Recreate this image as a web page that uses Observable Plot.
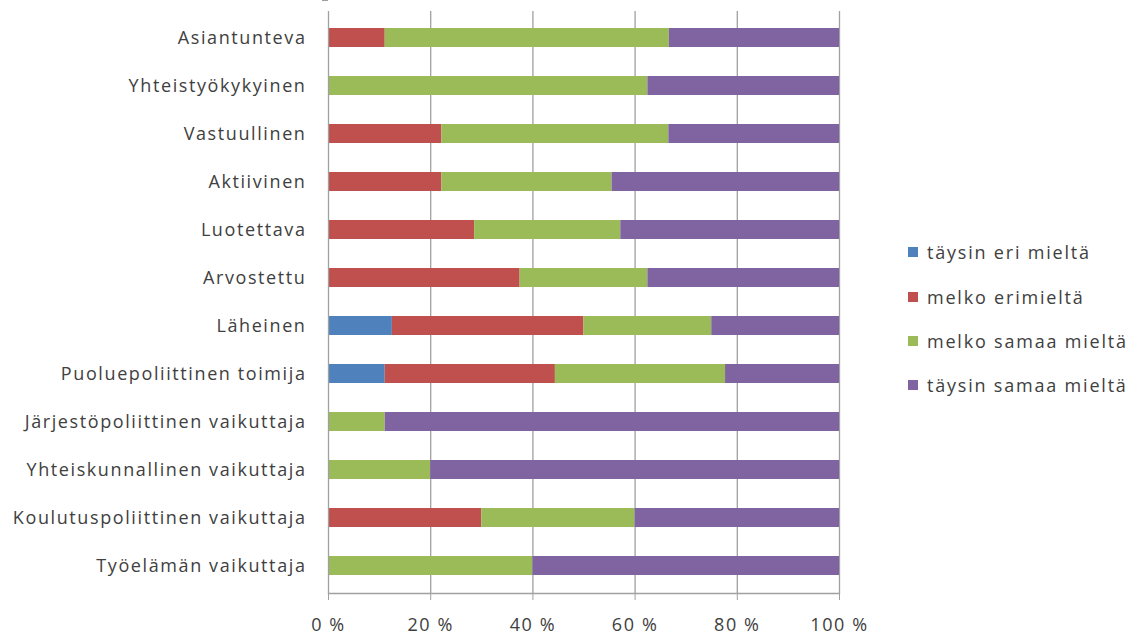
<!DOCTYPE html>
<html>
<head>
<meta charset="utf-8">
<script src="https://cdn.jsdelivr.net/npm/d3@7"></script>
<script src="https://cdn.jsdelivr.net/npm/@observablehq/plot@0.6"></script>
<style>
  html, body { margin: 0; padding: 0; background: #fff; }
  #chart { position: relative; width: 1138px; height: 636px; font-family: "Open Sans", sans-serif; color: #404040; }
  #legend { position: absolute; left: 908px; top: 230px; font-size: 18px; letter-spacing: 1.8px; }
  .item { display: flex; align-items: center; height: 44.4px; white-space: nowrap; }
  .sw { width: 10px; height: 10px; margin-right: 9px; }
  .c g[aria-label="y-axis tick label"] text { letter-spacing: 1.6px; }
  .c g[aria-label="x-axis tick label"] text { letter-spacing: 1.6px; }
</style>
</head>
<body>
<div id="chart"></div>
<script>
const categories = [
  "Asiantunteva",
  "Yhteistyökykyinen",
  "Vastuullinen",
  "Aktiivinen",
  "Luotettava",
  "Arvostettu",
  "Läheinen",
  "Puoluepoliittinen toimija",
  "Järjestöpoliittinen vaikuttaja",
  "Yhteiskunnallinen vaikuttaja",
  "Koulutuspoliittinen vaikuttaja",
  "Työelämän vaikuttaja"
];
const series = ["täysin eri mieltä", "melko erimieltä", "melko samaa mieltä", "täysin samaa mieltä"];
const colors = ["#4F81BD", "#C0504D", "#9BBB59", "#8064A2"];
const taysinEri   = [0, 0, 0, 0, 0, 0, 12.5, 11.1, 0, 0, 0, 0];
const melkoEri    = [11.1, 0, 22.2, 22.2, 28.6, 37.5, 37.5, 33.3, 0, 0, 30, 0];
const melkoSamaa  = [55.6, 62.5, 44.4, 33.3, 28.6, 25, 25, 33.3, 11.1, 20, 30, 40];
const taysinSamaa = [33.3, 37.5, 33.4, 44.5, 42.8, 37.5, 25, 22.3, 88.9, 80, 40, 60];
const xTicks = [0, 20, 40, 60, 80, 100];

const seriesValues = [taysinEri, melkoEri, melkoSamaa, taysinSamaa];
const rows = [];
categories.forEach((c, i) => {
  series.forEach((s, j) => rows.push({cat: c, series: s, value: seriesValues[j][i]}));
});

const axisColor = "#A0A0A0";

const bandTicks = (index, scales) => {
  const y = scales.y, x = scales.x;
  const step = y(categories[1]) - y(categories[0]);
  const bw = y.bandwidth != null ? y.bandwidth : step * 0.4;
  const off = (step - bw) / 2;
  const g = d3.create("svg:g").attr("stroke", axisColor).attr("stroke-width", 1.3);
  const x0 = x(0);
  const ys = categories.map(c => y(c) - off);
  ys.push(y(categories[categories.length - 1]) + bw + off);
  ys.forEach(v => g.append("line").attr("x1", x0 - 6).attr("x2", x0).attr("y1", v).attr("y2", v));
  return g.node();
};

const chart = Plot.plot({
  className: "c",
  width: 1138,
  height: 636,
  marginLeft: 328,
  marginRight: 299,
  marginTop: 11,
  marginBottom: 43,
  style: {fontFamily: "Open Sans, sans-serif", fontSize: "16px", color: "#404040", background: "#fff"},
  x: {domain: [0, 100]},
  y: {domain: categories, paddingInner: 0.6, paddingOuter: 0.3},
  color: {domain: series, range: colors},
  marks: [
    Plot.ruleX(xTicks.filter(d => d > 0), {stroke: axisColor, strokeWidth: 1.3}),
    Plot.barX(rows, Plot.stackX({y: "cat", x: "value", fill: "series", order: series})),
    Plot.ruleX([0], {stroke: axisColor, strokeWidth: 1.3}),
    Plot.frame({anchor: "bottom", stroke: axisColor, strokeWidth: 1.3}),
    Plot.axisX({ticks: xTicks, tickFormat: d => d + " %", tickSize: 7, tickPadding: 18, stroke: axisColor, fill: "#404040", fontSize: 18, label: null}),
    Plot.axisY({tickSize: 0, tickPadding: 22, fill: "#404040", fontSize: 18, label: null}),
    bandTicks
  ]
});
document.getElementById("chart").appendChild(chart);

const legend = d3.select("#chart").append("div").attr("id", "legend");
series.forEach((s, i) => {
  const it = legend.append("div").attr("class", "item");
  it.append("div").attr("class", "sw").style("background", colors[i]);
  it.append("span").text(s);
});
</script>
</body>
</html>
